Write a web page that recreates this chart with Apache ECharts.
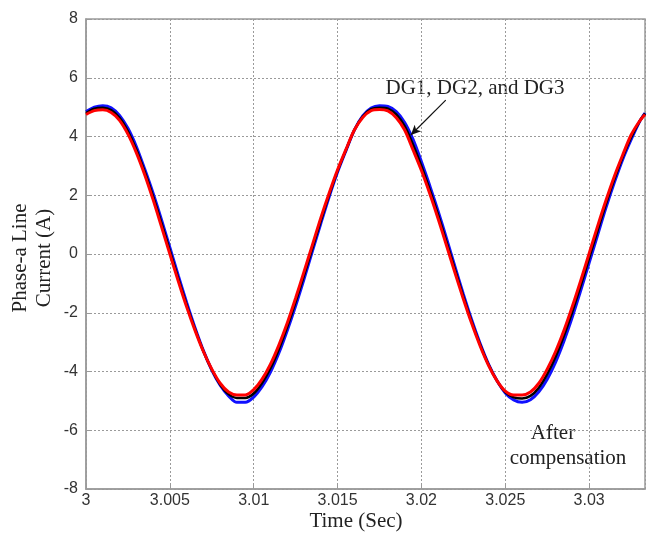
<!DOCTYPE html>
<html>
<head>
<meta charset="utf-8">
<script src="https://cdn.jsdelivr.net/npm/echarts@6/dist/echarts.min.js"></script>
<style>html,body{margin:0;padding:0;background:#fff;}#c{width:647px;height:536px;}</style>
</head>
<body>
<div id="c"></div>
<script>
var times = [3.0000,3.0005,3.0010,3.0015,3.0020,3.0025,3.0030,3.0035,3.0040,3.0045,
3.0050,3.0055,3.0060,3.0065,3.0070,3.0075,3.0080,3.0085,3.0090,3.0095,
3.0100,3.0105,3.0110,3.0115,3.0120,3.0125,3.0130,3.0135,3.0140,3.0145,
3.0150,3.0155,3.0160,3.0165,3.0170,3.0175,3.0180,3.0185,3.0190,3.0195,
3.0200,3.0205,3.0210,3.0215,3.0220,3.0225,3.0230,3.0235,3.0240,3.0245,
3.0250,3.0255,3.0260,3.0265,3.0270,3.0275,3.0280,3.0285,3.0290,3.0295,
3.0300,3.0305,3.0310,3.0315,3.0320,3.0325,3.0330,3.03333];

var blueDG = [4.85,5.00,5.05,4.98,4.72,4.28,3.66,2.89,2.07,1.17,
0.22,-0.73,-1.65,-2.51,-3.29,-3.95,-4.47,-4.83,-5.05,-5.05,
-4.87,-4.52,-4.02,-3.37,-2.60,-1.76,-0.85,0.10,1.04,1.95,
2.79,3.52,4.22,4.70,4.97,5.05,5.02,4.85,4.48,3.90,
3.14,2.32,1.45,0.52,-0.43,-1.37,-2.25,-3.05,-3.75,-4.31,
-4.73,-4.97,-5.05,-4.96,-4.69,-4.26,-3.68,-2.96,-2.14,-1.24,
-0.30,0.64,1.57,2.43,3.22,3.89,4.50,4.80];

var blackDG = [4.80,4.95,4.98,4.90,4.64,4.18,3.56,2.80,1.96,1.05,
0.11,-0.83,-1.73,-2.56,-3.31,-3.94,-4.44,-4.77,-4.90,-4.90,
-4.75,-4.39,-3.89,-3.24,-2.48,-1.63,-0.73,0.20,1.13,2.01,
2.83,3.54,4.22,4.68,4.93,4.98,4.95,4.75,4.35,3.72,
2.99,2.18,1.32,0.40,-0.53,-1.45,-2.31,-3.09,-3.77,-4.31,
-4.70,-4.88,-4.92,-4.83,-4.55,-4.09,-3.50,-2.78,-1.96,-1.07,
-0.14,0.79,1.70,2.54,3.30,3.97,4.51,4.78];

var redDG = [4.75,4.88,4.91,4.82,4.55,4.08,3.45,2.70,1.85,0.93,
0.00,-0.92,-1.80,-2.60,-3.32,-3.92,-4.40,-4.70,-4.80,-4.80,
-4.62,-4.26,-3.75,-3.10,-2.35,-1.50,-0.60,0.31,1.23,2.08,
2.87,3.56,4.22,4.65,4.88,4.92,4.87,4.64,4.22,3.54,
2.84,2.05,1.19,0.28,-0.64,-1.53,-2.37,-3.13,-3.79,-4.31,
-4.67,-4.80,-4.80,-4.70,-4.40,-3.92,-3.32,-2.60,-1.78,-0.90,
0.02,0.94,1.82,2.64,3.37,4.05,4.52,4.75];

var xTicks = {min: 3, max: 3.03333, interval: 0.005};
var yTicks = {min: -8, max: 8, interval: 2};
var arrowFrom = [3.02145, 5.24];
var arrowTo = [3.01937, 4.05];

function pairs(vals) {
  return times.map(function (t, i) { return [t, vals[i]]; });
}

var chart = echarts.init(document.getElementById('c'), null, {renderer: 'canvas'});
var serif = '"Liberation Serif", "DejaVu Serif", serif';
var sans = '"Liberation Sans", Arial, sans-serif';

chart.setOption({
  animation: false,
  backgroundColor: '#fff',
  grid: {left: 86, right: 2, top: 19, bottom: 47, show: true, borderColor: '#9a9a9a', borderWidth: 1.5, containLabel: false},
  xAxis: {
    type: 'value', min: xTicks.min, max: xTicks.max, interval: xTicks.interval,
    axisLine: {show: true, onZero: false, lineStyle: {color: '#9a9a9a', width: 1.5}},
    axisTick: {show: true, inside: true, length: 4, lineStyle: {color: '#9a9a9a'}},
    splitLine: {show: true, lineStyle: {color: '#9a9a9a', type: [2, 2], width: 1}},
    axisLabel: {
      color: '#333', fontFamily: sans, fontSize: 16, margin: 4, showMaxLabel: false,
      formatter: function (v) { return String(parseFloat(v.toFixed(4))); }
    }
  },
  yAxis: {
    type: 'value', min: yTicks.min, max: yTicks.max, interval: yTicks.interval,
    axisLine: {show: true, onZero: false, lineStyle: {color: '#9a9a9a', width: 1.5}},
    axisTick: {show: true, inside: true, length: 4, lineStyle: {color: '#9a9a9a'}},
    splitLine: {show: true, lineStyle: {color: '#9a9a9a', type: [2, 2], width: 1}},
    axisLabel: {color: '#333', fontFamily: sans, fontSize: 16, margin: 8}
  },
  series: [
    {name: 'DG1', type: 'line', data: pairs(blueDG), smooth: 0.3, showSymbol: false,
     lineStyle: {color: '#1010ff', width: 3}, z: 2},
    {name: 'DG2', type: 'line', data: pairs(blackDG), smooth: 0.3, showSymbol: false,
     lineStyle: {color: '#000000', width: 2.5}, z: 3},
    {name: 'DG3', type: 'line', data: pairs(redDG), smooth: 0.3, showSymbol: false,
     lineStyle: {color: '#ff0000', width: 3}, z: 4,
     markLine: {
       silent: true, animation: false, symbol: ['none', 'arrow'], symbolSize: [7, 10],
       label: {show: false},
       lineStyle: {color: '#111', width: 1.2, type: 'solid'},
       data: [[{coord: arrowFrom}, {coord: arrowTo}]]
     }}
  ],
  graphic: [
    {type: 'text', x: 475, y: 88, style: {text: 'DG1, DG2, and DG3', font: '21px ' + serif, fill: '#222', align: 'center', verticalAlign: 'middle'}},
    {type: 'text', x: 553, y: 433, style: {text: 'After', font: '21px ' + serif, fill: '#222', align: 'center', verticalAlign: 'middle'}},
    {type: 'text', x: 568, y: 458, style: {text: 'compensation', font: '21px ' + serif, fill: '#222', align: 'center', verticalAlign: 'middle'}},
    {type: 'text', x: 356, y: 521, style: {text: 'Time (Sec)', font: '21px ' + serif, fill: '#222', align: 'center', verticalAlign: 'middle'}},
    {type: 'text', x: 20, y: 258, rotation: Math.PI / 2, style: {text: 'Phase-a Line', font: '21px ' + serif, fill: '#222', align: 'center', verticalAlign: 'middle'}},
    {type: 'text', x: 44, y: 258, rotation: Math.PI / 2, style: {text: 'Current (A)', font: '21px ' + serif, fill: '#222', align: 'center', verticalAlign: 'middle'}}
  ]
});
</script>
</body>
</html>
